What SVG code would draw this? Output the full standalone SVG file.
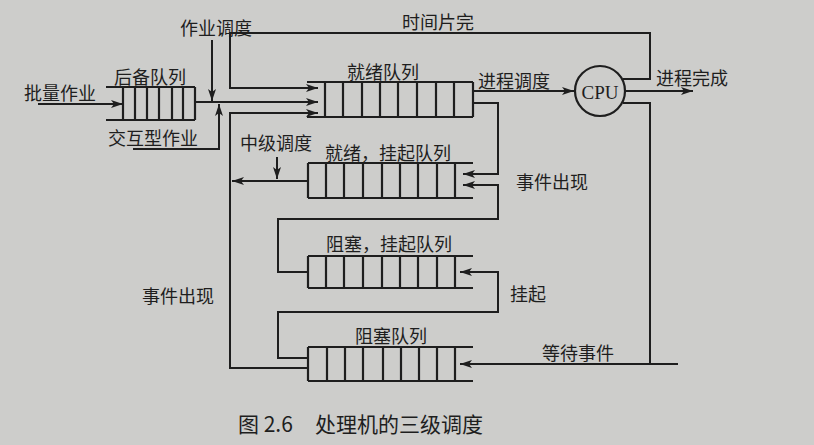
<svg xmlns="http://www.w3.org/2000/svg" width="814" height="445" viewBox="0 0 814 445">
<defs>
<marker id="arr" viewBox="0 0 12 8" refX="12" refY="4" markerWidth="12" markerHeight="8" markerUnits="userSpaceOnUse" orient="auto">
<path d="M0,0 L12,4 L0,8 L3,4 z" fill="#1e1e1e"/>
</marker>
<style>
.ln{fill:none;stroke:#1e1e1e;stroke-width:2}
.q{fill:none;stroke:#1e1e1e;stroke-width:2.2}
.t{font-family:"Noto Sans CJK SC","Noto Sans",sans-serif;font-size:18px;fill:#1e1e1e;dominant-baseline:central}
.cap{font-size:21px}
.cpu{font-family:"Liberation Serif",serif;font-size:19px;fill:#1e1e1e;dominant-baseline:central;text-anchor:middle}
</style>
</defs>
<rect width="814" height="445" fill="#cdcdcb"/>

<g id="backup-queue">
<path class="q" d="M106,87 H195 M106,120 H195 M123,87 V120 M135,87 V120 M147,87 V120 M159,87 V120 M172,87 V120 M183,87 V120 M195,87 V120"/>
<text class="t" x="114" y="76">后备队列</text>
</g>

<g id="ready-queue">
<path class="q" d="M307,82 H473 M307,117 H473 M325,82 V117 M343,82 V117 M362,82 V117 M380,82 V117 M398,82 V117 M417,82 V117 M436,82 V117 M454,82 V117 M473,82 V117"/>
<text class="t" x="347" y="71">就绪队列</text>
</g>

<g id="ready-suspended-queue">
<path class="q" d="M308,163 H473 M308,198 H473 M308,163 V198 M326,163 V198 M344,163 V198 M363,163 V198 M382,163 V198 M400,163 V198 M418,163 V198 M437,163 V198 M455,163 V198"/>
<text class="t" x="325" y="152">就绪，挂起队列</text>
</g>

<g id="blocked-suspended-queue">
<path class="q" d="M308,256 H473 M308,288 H473 M308,256 V288 M326,256 V288 M344,256 V288 M363,256 V288 M382,256 V288 M400,256 V288 M418,256 V288 M437,256 V288 M455,256 V288"/>
<text class="t" x="326" y="243">阻塞，挂起队列</text>
</g>

<g id="blocked-queue">
<path class="q" d="M308,347 H473 M308,381 H473 M308,347 V381 M327,347 V381 M345,347 V381 M363,347 V381 M383,347 V381 M401,347 V381 M419,347 V381 M437,347 V381 M455,347 V381"/>
<text class="t" x="355" y="335">阻塞队列</text>
</g>

<g id="cpu">
<circle cx="600" cy="91" r="25" fill="none" stroke="#1e1e1e" stroke-width="2.2"/>
<text class="cpu" x="600" y="92">CPU</text>
</g>

<g id="connectors">
<path class="ln" d="M38,104 H123" marker-end="url(#arr)"/>
<path class="ln" d="M195,102 H318" marker-end="url(#arr)"/>
<path class="ln" d="M212,40 V101" marker-end="url(#arr)"/>
<path class="ln" d="M133,149 H219 V104" marker-end="url(#arr)"/>
<path class="ln" d="M623,79 H650 V33 H230 V88 H318" marker-end="url(#arr)"/>
<path class="ln" d="M308,368 H230 V113 H318" marker-end="url(#arr)"/>
<path class="ln" d="M308,181 H232" marker-end="url(#arr)"/>
<path class="ln" d="M277,157 V179" marker-end="url(#arr)"/>
<path class="ln" d="M473,91 H574" marker-end="url(#arr)"/>
<path class="ln" d="M626,91 H693" marker-end="url(#arr)"/>
<path class="ln" d="M623,103 H650 V364"/>
<path class="ln" d="M678,364 H460" marker-end="url(#arr)"/>
<path class="ln" d="M473,103 H498 V174 H463" marker-end="url(#arr)"/>
<path class="ln" d="M308,272 H278 V219 H498 V185 H463" marker-end="url(#arr)"/>
<path class="ln" d="M308,358 H278 V312 H498 V272 H460" marker-end="url(#arr)"/>
</g>

<g id="labels">
<text class="t" x="180" y="27">作业调度</text>
<text class="t" x="402" y="21">时间片完</text>
<text class="t" x="24" y="92">批量作业</text>
<text class="t" x="108" y="137">交互型作业</text>
<text class="t" x="478" y="80">进程调度</text>
<text class="t" x="656" y="77">进程完成</text>
<text class="t" x="240" y="142">中级调度</text>
<text class="t" x="516" y="181">事件出现</text>
<text class="t" x="510" y="293">挂起</text>
<text class="t" x="142" y="295">事件出现</text>
<text class="t" x="542" y="352">等待事件</text>
<text class="t cap" x="238" y="423">图 2.6</text>
<text class="t cap" x="315" y="423">处理机的三级调度</text>
</g>
</svg>
